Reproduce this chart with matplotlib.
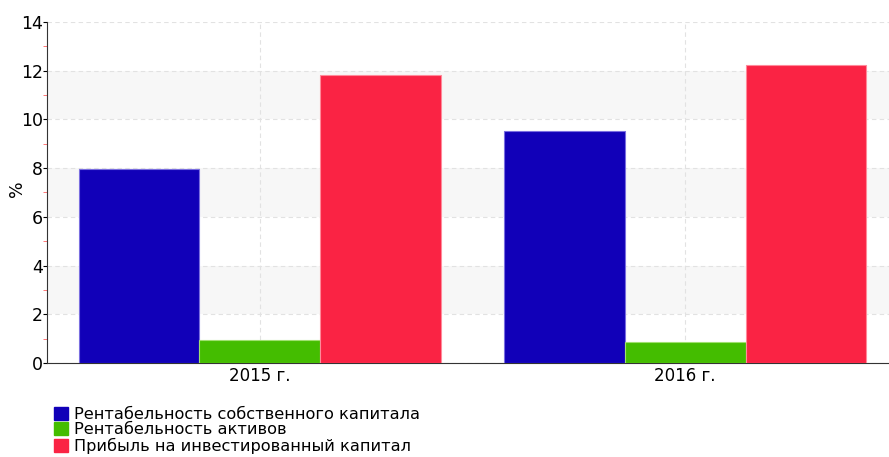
import numpy as np
import matplotlib.pyplot as plt
from matplotlib.patches import Patch

years = ["2015 г.", "2016 г."]
series = ["Рентабельность собственного капитала",
          "Рентабельность активов",
          "Прибыль на инвестированный капитал"]
roe = [7.97, 9.52]
roa = [0.94, 0.87]
roic = [11.82, 12.22]
colors = ["#1100b8", "#44bd00", "#fa2344"]
edges = ["#7a6ee0", "#a0e070", "#ff8a9a"]

plt.rcParams["font.family"] = ["DejaVu Sans"]

fig = plt.figure(figsize=(8.89, 4.57), dpi=100)
ax = fig.add_axes([0.0529, 0.2057, 0.9471, 0.7462])

x = np.arange(len(years))
w = 0.284
for i, (vals, c, e) in enumerate(zip([roe, roa, roic], colors, edges)):
    ax.bar(x + (i - 1) * w, vals, w, color=c, edgecolor=e, linewidth=0.8, zorder=3)

# alternating horizontal bands
for lo in (2, 6, 10):
    ax.axhspan(lo, lo + 2, color="#f7f7f7", zorder=0, lw=0)

ax.set_ylim(0, 14)
ax.set_xlim(-0.5, 1.479)
ax.set_yticks(range(0, 15, 2))
ax.set_yticks(range(1, 14, 2), minor=True)
ax.set_xticks(x)
ax.set_xticklabels(years)
ax.tick_params(axis="y", which="major", length=3, labelsize=12.5, pad=0)
ax.tick_params(axis="y", which="minor", length=3, color="#ff6060")
ax.tick_params(axis="x", length=0, labelsize=12, pad=3)
ax.grid(True, which="major", color="#e2e2e2", linestyle=(0, (4, 3)), linewidth=0.8, zorder=1)
ax.set_axisbelow(True)
for s in ("top", "right"):
    ax.spines[s].set_visible(False)
ax.spines["left"].set_color("#333333")
ax.spines["bottom"].set_color("#333333")

# y axis title placed in figure coordinates
fig.text(0.019, 0.588, "%", rotation=90, fontsize=12.5, ha="center", va="center")

handles = [Patch(facecolor=c, edgecolor=c) for c in colors]
fig.legend(handles, series, loc="upper left", bbox_to_anchor=(0.061, 0.11),
           frameon=False, fontsize=11.6, handlelength=0.85, handleheight=0.85,
           handletextpad=0.35, labelspacing=0.03, borderaxespad=0, borderpad=0)

fig.savefig("out.png", dpi=100)
